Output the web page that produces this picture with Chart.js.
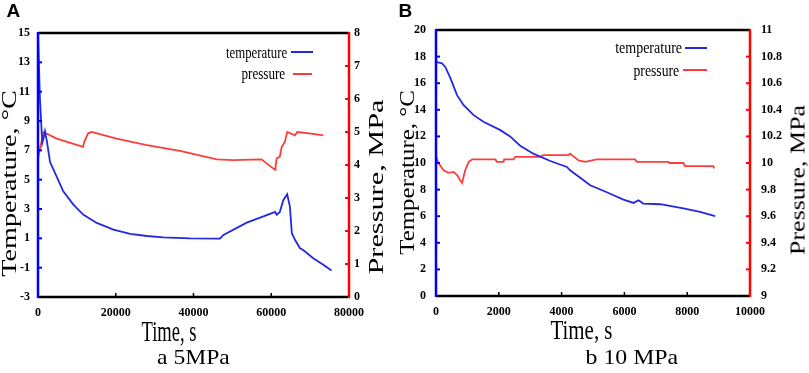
<!DOCTYPE html>
<html><head><meta charset="utf-8">
<script src="https://cdn.jsdelivr.net/npm/chart.js@4/dist/chart.umd.min.js"></script>
<style>
html,body{margin:0;padding:0;background:#fff;}
#wrap{position:relative;width:809px;height:373px;overflow:hidden;background:#fff;}
canvas{position:absolute;}
.t{position:absolute;white-space:nowrap;color:#000;line-height:1;font-family:'Liberation Serif','Times New Roman',serif;transform-origin:50% 50%;}
.lg{position:absolute;height:2px;}
</style></head><body>
<div id="wrap">
<canvas id="cA" width="400" height="330" style="left:0;top:0;width:400px;height:330px"></canvas>
<canvas id="cB" width="409" height="330" style="left:400px;top:0;width:409px;height:330px"></canvas>
</div>
<script>
// ---------- data: panel A (5 MPa) ----------
const timeA_T = [0, 500, 1100, 1500, 1800, 2300, 3100, 4800, 6500, 9100, 11700, 15100, 19400, 23700, 28000, 32200, 39100, 46800, 47700, 53700, 58000, 61000, 61400, 62200, 63100, 64100, 64800, 65300, 66100, 67400, 68200, 70800, 73400, 75500];
const tempA   = [15, 10.5, 7.5, 7.9, 8.3, 7.6, 6.2, 5.2, 4.2, 3.3, 2.6, 2.05, 1.6, 1.3, 1.16, 1.07, 1.0, 0.98, 1.23, 2.07, 2.5, 2.8, 2.6, 2.8, 3.6, 4.0, 3.16, 1.35, 0.9, 0.32, 0.2, -0.36, -0.8, -1.2];
const timeA_P = [0, 1400, 4800, 11600, 11900, 12900, 13800, 20200, 28000, 36500, 46000, 50200, 57500, 58800, 61000, 61100, 61400, 62200, 62700, 63500, 64100, 66100, 66700, 70800, 73400];
const presA   = [4.2, 5.0, 4.8, 4.55, 4.7, 4.96, 5.0, 4.8, 4.6, 4.43, 4.17, 4.15, 4.17, 4.05, 3.85, 3.95, 4.2, 4.25, 4.55, 4.7, 5.0, 4.9, 5.0, 4.94, 4.9];
const xTicksA  = [0, 20000, 40000, 60000, 80000];
const tTicksA  = [-3, -1, 1, 3, 5, 7, 9, 11, 13, 15];
const pTicksA  = [0, 1, 2, 3, 4, 5, 6, 7, 8];

// ---------- data: panel B (10 MPa) ----------
const timeB_T = [0, 190, 300, 455, 670, 880, 1200, 1510, 2050, 2360, 2680, 3100, 3640, 4170, 4270, 4700, 4910, 5440, 5970, 6290, 6450, 6600, 7140, 7880, 8410, 8890];
const tempB   = [17.6, 17.5, 17.2, 16.4, 15.1, 14.35, 13.6, 13.1, 12.47, 12.0, 11.3, 10.7, 10.15, 9.7, 9.45, 8.7, 8.33, 7.8, 7.25, 7.0, 7.2, 6.95, 6.9, 6.58, 6.32, 6.0];
const timeB_P = [0, 80, 240, 400, 560, 670, 770, 830, 930, 1040, 1150, 1890, 1940, 2150, 2170, 2470, 2520, 3320, 3420, 4220, 4270, 4380, 4540, 4750, 5120, 6340, 6400, 7400, 7430, 7880, 7930, 8830, 8860];
const presB   = [10.05, 10.0, 9.946, 9.926, 9.933, 9.909, 9.87, 9.85, 9.946, 10.009, 10.027, 10.027, 10.009, 10.009, 10.027, 10.027, 10.046, 10.046, 10.059, 10.059, 10.07, 10.05, 10.02, 10.009, 10.027, 10.027, 10.009, 10.009, 10.0, 10.0, 9.976, 9.976, 9.96];
const xTicksB  = [0, 2000, 4000, 6000, 8000, 10000];
const tTicksB  = [0, 2, 4, 6, 8, 10, 12, 14, 16, 18, 20];
const pTicksB  = [9, 9.2, 9.4, 9.6, 9.8, 10, 10.2, 10.4, 10.6, 10.8, 11];

const BLUE = 'rgb(35,40,225)';
const RED  = 'rgb(255,60,60)';

const pts = (xs, ys) => xs.map((x, i) => ({x, y: ys[i]}));

const framePlugin = {
  id: 'frame',
  afterDatasetsDraw(chart) {
    const {ctx, chartArea: a, scales} = chart;
    ctx.save();
    const seg = (x1, y1, x2, y2, c, w) => { ctx.beginPath(); ctx.strokeStyle = c; ctx.lineWidth = w; ctx.moveTo(x1, y1); ctx.lineTo(x2, y2); ctx.stroke(); };
    scales.y.ticks.forEach(t => { const p = scales.y.getPixelForValue(t.value); seg(a.left, p, a.left + 4, p, '#0000ff', 2); });
    scales.y1.ticks.forEach(t => { const p = scales.y1.getPixelForValue(t.value); seg(a.right - 4, p, a.right, p, '#ff0000', 2); });
    scales.x.ticks.forEach(t => { const p = scales.x.getPixelForValue(t.value); seg(p, a.bottom, p, a.bottom - 4, '#000', 1.5); });
    seg(a.left, a.top, a.right, a.top, '#000', 2.5);
    seg(a.left, a.bottom, a.right, a.bottom, '#000', 2.5);
    seg(a.left, a.top - 1, a.left, a.bottom + 1, '#0000ff', 2.5);
    seg(a.right, a.top - 1, a.right, a.bottom + 1, '#ff0000', 2.5);
    ctx.restore();
  }
};

const tickFont = {family: "'Liberation Serif', serif", size: 12, weight: 'bold'};

function makeChart(id, cfg) {
  const setTicks = arr => (s => { s.ticks = arr.map(v => ({value: v})); });
  return new Chart(document.getElementById(id), {
    type: 'line',
    data: {
      datasets: [
        {label: 'temperature', data: pts(cfg.tT, cfg.T), yAxisID: 'y', borderColor: BLUE, borderWidth: 1.8, pointRadius: 0, tension: 0, fill: false},
        {label: 'pressure', data: pts(cfg.tP, cfg.P), yAxisID: 'y1', borderColor: RED, borderWidth: 1.8, pointRadius: 0, tension: 0, fill: false}
      ]
    },
    options: {
      responsive: false, animation: false, devicePixelRatio: 1,
      layout: {padding: {top: cfg.top, left: 0, right: 0, bottom: 0}},
      plugins: {legend: {display: false}, tooltip: {enabled: false}, title: {display: false}},
      scales: {
        x: {type: 'linear', min: cfg.xTicks[0], max: cfg.xTicks[cfg.xTicks.length - 1],
            afterBuildTicks: setTicks(cfg.xTicks), afterFit: s => { s.height = cfg.xH; },
            grid: {display: false, drawTicks: false}, border: {display: false},
            ticks: {autoSkip: false, maxRotation: 0, color: '#000', font: tickFont, padding: cfg.xPad, callback: v => String(v)}},
        y: {type: 'linear', position: 'left', min: cfg.tTicks[0], max: cfg.tTicks[cfg.tTicks.length - 1],
            afterBuildTicks: setTicks(cfg.tTicks), afterFit: s => { s.width = cfg.lW; },
            grid: {display: false, drawTicks: false}, border: {display: false},
            ticks: {color: '#000', font: tickFont, padding: cfg.lPad, callback: v => String(v)}},
        y1: {type: 'linear', position: 'right', min: cfg.pTicks[0], max: cfg.pTicks[cfg.pTicks.length - 1],
            afterBuildTicks: setTicks(cfg.pTicks), afterFit: s => { s.width = cfg.rW; },
            grid: {display: false, drawTicks: false}, border: {display: false},
            ticks: {color: '#000', font: tickFont, padding: cfg.rPad, callback: v => String(v)}}
      }
    },
    plugins: [framePlugin]
  });
}

makeChart('cA', {tT: timeA_T, T: tempA, tP: timeA_P, P: presA, xTicks: xTicksA, tTicks: tTicksA, pTicks: pTicksA,
  top: 33, xH: 33, lW: 38, rW: 51, xPad: 9, lPad: 8, rPad: 5});
makeChart('cB', {tT: timeB_T, T: tempB, tP: timeB_P, P: presB, xTicks: xTicksB, tTicks: tTicksB, pTicks: pTicksB,
  top: 30, xH: 34, lW: 36, rW: 59, xPad: 9, lPad: 10, rPad: 11});

// ---------- text (real text, fitted to the reference boxes) ----------
const wrap = document.getElementById('wrap');
function txt(s, o) {
  const d = document.createElement('div');
  d.className = 't';
  d.textContent = s;
  d.style.fontSize = o.size + 'px';
  if (o.family) d.style.fontFamily = o.family;
  if (o.bold) d.style.fontWeight = 'bold';
  wrap.appendChild(d);
  const w = d.offsetWidth, h = d.offsetHeight;
  d.style.left = (o.cx - w / 2) + 'px';
  d.style.top = (o.cy - h / 2) + 'px';
  const sc = o.len ? o.len / w : 1;
  d.style.transform = (o.rot ? 'rotate(-90deg) ' : '') + 'scale(' + sc + ',1)';
  return d;
}
function lg(x1, x2, y, c) {
  const d = document.createElement('div');
  d.className = 'lg';
  d.style.left = x1 + 'px'; d.style.width = (x2 - x1) + 'px'; d.style.top = (y - 1) + 'px';
  d.style.backgroundColor = c;
  wrap.appendChild(d);
}
const SANS = "'Liberation Sans', Arial, sans-serif";
// panel A
txt('A', {cx: 13.5, cy: 10, size: 19, bold: true, family: SANS});
txt('Temperature, °C', {cx: 9, cy: 183, size: 21, len: 187, rot: true});
txt('Pressure, MPa', {cx: 375.5, cy: 187, size: 22, len: 175, rot: true});
txt('Time, s', {cx: 169, cy: 331, size: 29, len: 55});
txt('a 5MPa', {cx: 193, cy: 357, size: 21, len: 73});
txt('temperature', {cx: 256.5, cy: 52, size: 17, len: 61});
txt('pressure', {cx: 263.7, cy: 73, size: 17, len: 44});
lg(290.7, 312.7, 51.7, BLUE);
lg(292.7, 311.7, 74, RED);
// panel B
txt('B', {cx: 405.5, cy: 10.5, size: 19, bold: true, family: SANS});
txt('Temperature, °C', {cx: 407.5, cy: 172, size: 21, len: 165, rot: true});
txt('Pressure, MPa', {cx: 797, cy: 180, size: 22, len: 150, rot: true});
txt('Time, s', {cx: 581, cy: 330, size: 28, len: 62});
txt('b 10 MPa', {cx: 631.5, cy: 357, size: 21, len: 93});
txt('temperature', {cx: 648.3, cy: 47, size: 17, len: 66.7});
txt('pressure', {cx: 656, cy: 70, size: 17, len: 46});
lg(685, 706.7, 48.3, BLUE);
lg(683, 707, 70, RED);
</script>
</body></html>
